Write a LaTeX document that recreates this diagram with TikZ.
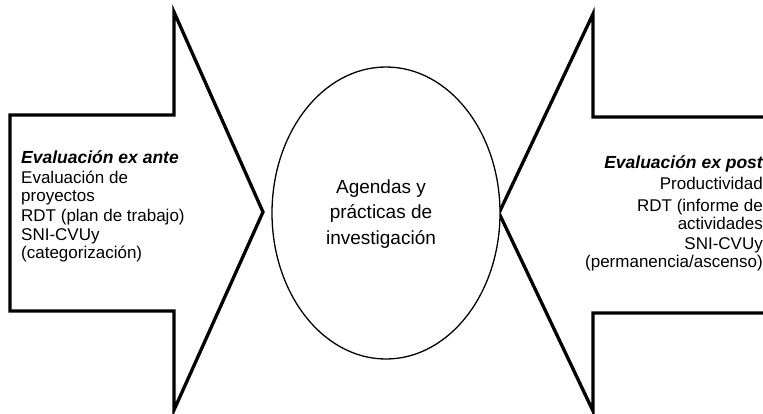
\documentclass[tikz,border=0pt]{standalone}
\usepackage{fontspec}
\setmainfont{Liberation Sans}
\usetikzlibrary{shapes.geometric}
\begin{document}
\begin{tikzpicture}[x=1pt,y=-1pt,
  bigarrow/.style={draw=black,line width=3.3pt,line join=miter,fill=white},
  hub/.style={draw=black,line width=1.3pt,ellipse,fill=white,minimum width=228pt,minimum height=292pt,inner sep=0pt},
  hubtext/.style={align=center,inner sep=0pt,font=\fontsize{19}{25.5}\selectfont},
  lt/.style={inner sep=0pt,anchor=base west,font=\fontsize{17}{18}\selectfont},
  rt/.style={inner sep=0pt,anchor=base east,font=\fontsize{17}{18}\selectfont},
  ttl/.style={font=\fontsize{17.5}{18}\selectfont\bfseries\itshape}
]
\useasboundingbox (0,0) rectangle (763,413);
\begin{scope}
\clip (0,0) rectangle (763,413);
% left arrow
\draw[bigarrow] (10,115) -- (174,115) -- (174,12) -- (263,212) -- (174,410) -- (174,311) -- (10,311) -- cycle;
% right arrow
\draw[bigarrow] (780,117) -- (593,117) -- (593,14) -- (499,213) -- (593,411) -- (593,313) -- (780,313);
\end{scope}
\node[hub] (hub) at (386,213) {};
\node[hubtext] (hubt) at (381,214) {Agendas y\\prácticas de\\investigación};
% left texts
\node[lt,ttl] (l1) at (21,163) {Evaluación ex ante};
\node[lt] (l2) at (21,183) {Evaluación de};
\node[lt] (l3) at (21,201) {proyectos};
\node[lt] (l4) at (21,221) {RDT (plan de trabajo)};
\node[lt] (l5) at (21,240) {SNI-CVUy};
\node[lt] (l6) at (21,258) {(categorización)};
% right texts
\node[rt,ttl] (r1) at (763,168) {Evaluación ex post};
\node[rt] (r2) at (763,189) {Productividad};
\node[rt] (r3) at (763,211) {RDT (informe de};
\node[rt] (r4) at (763,229) {actividades};
\node[rt] (r5) at (763,249) {SNI-CVUy};
\node[rt] (r6) at (763,267) {(permanencia/ascenso)};
\end{tikzpicture}
\end{document}
